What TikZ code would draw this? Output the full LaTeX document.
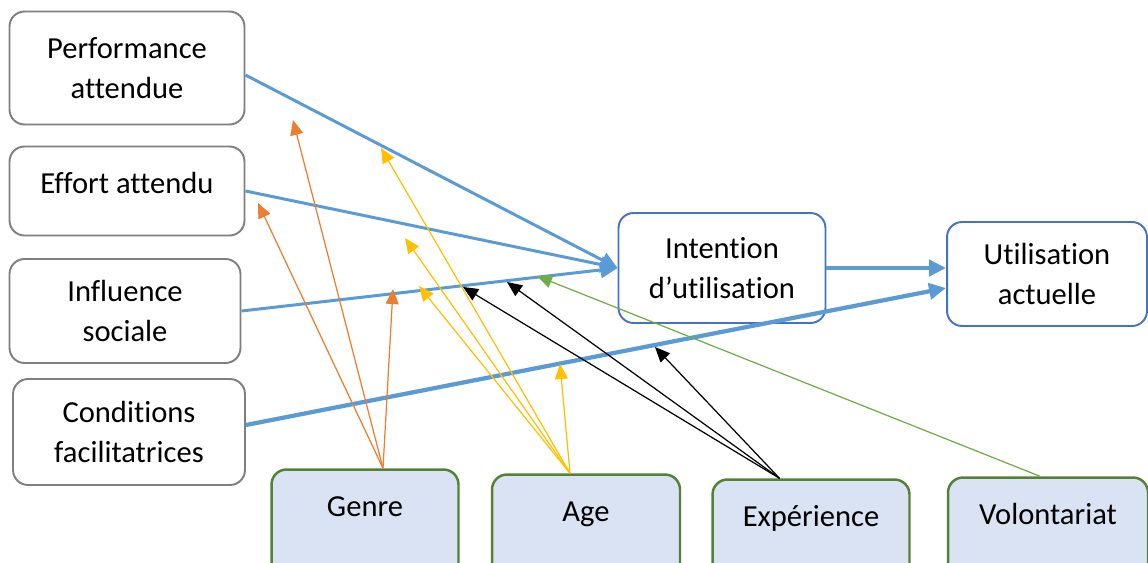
\documentclass[tikz,border=0pt]{standalone}
\usepackage{fontspec}
\setmainfont{Carlito}[Ligatures={NoCommon}]
\usetikzlibrary{arrows.meta}
\definecolor{lineblue}{HTML}{5B9BD5}
\definecolor{boxblue}{HTML}{4472C4}
\definecolor{boxgray}{HTML}{7F7F7F}
\definecolor{modgreen}{HTML}{548235}
\definecolor{modfill}{HTML}{DAE3F3}
\definecolor{modorange}{HTML}{ED7D31}
\definecolor{modyellow}{HTML}{FFC000}
\definecolor{modlime}{HTML}{70AD47}
\begin{document}
\begin{tikzpicture}[x=0.02cm,y=-0.02cm,font=\fontsize{17.4}{22.8}\selectfont,
  box/.style={draw,rounded corners=0.3cm,line width=1.1pt,align=center,inner sep=0pt},
  factor/.style={box,draw=boxgray,fill=white},
  outcome/.style={box,draw=boxblue,fill=white},
  moderator/.style={box,draw=modgreen,fill=modfill,line width=1.4pt,anchor=base,text height=0.93cm,text depth=2cm},
  flow/.style={lineblue,line width=1.7pt,-{Triangle[length=0.34cm,width=0.32cm]}},
  bigflow/.style={flow,line width=2.4pt},
  modline/.style={line width=0.7pt,-{Triangle[length=0.3cm,width=0.26cm]}}]
\useasboundingbox (0,0) rectangle (1148,562); \clip (0,0) rectangle (1148,562);
% determinants
\node[factor,minimum width=4.7cm,minimum height=2.26cm] (perf) at (127,68) {Performance\\attendue};
\node[factor,minimum width=4.7cm,minimum height=1.78cm,text depth=0.32cm] (effort) at (127,191) {Effort attendu};
\node[factor,minimum width=4.62cm,minimum height=2.08cm] (influence) at (125,311) {Influence\\sociale};
\node[factor,minimum width=4.64cm,minimum height=2.12cm] (conditions) at (129,432) {Conditions\\facilitatrices};
\node[outcome,minimum width=4.14cm,minimum height=2.2cm] (intention) at (722,268) {Intention\\d’utilisation};
\node[outcome,minimum width=4.0cm,minimum height=2.08cm] (utilisation) at (1047,274) {Utilisation\\actuelle};
% moderateurs
\node[moderator,minimum width=3.74cm] (genre) at (365,516) {Genre};
\node[moderator,minimum width=3.76cm] (age) at (586,521) {Age};
\node[moderator,minimum width=3.94cm] (experience) at (811,526) {Expérience};
\node[moderator,minimum width=4.0cm] (volontariat) at (1048,524) {Volontariat};
% main paths
\draw[flow] ([yshift=-0.14cm]perf.east) -- (intention.west);
\draw[flow] (effort.east) -- (intention.west);
\draw[flow] (influence.east) -- (intention.west);
\draw[bigflow] (intention.east) -- (intention.east -| utilisation.west);
\draw[bigflow] ([yshift=0.14cm]conditions.east) -- ([yshift=-0.28cm]utilisation.west);
% moderating effects
\foreach \n/\x/\y in {o1/293/120, o2/258/203, o3/393/289, y1/381/148, y2/405/238, y3/419/286, y4/560/364, b1/463/287, b2/507/282, b3/655/347, v1/537/276} { \coordinate (\n) at (\x,\y); };
\foreach \t in {o1,o2,o3} { \draw[modline,modorange] ([xshift=0.36cm]genre.north) -- (\t); };
\foreach \t in {y1,y2,y3,y4} { \draw[modline,modyellow] ([xshift=-0.32cm]age.north) -- (\t); };
\foreach \t in {b1,b2,b3} { \draw[modline,black] ([xshift=-0.63cm]experience.north) -- (\t); };
\draw[modline,modlime] ([xshift=-0.16cm]volontariat.north) -- (v1);
\end{tikzpicture}
\end{document}
